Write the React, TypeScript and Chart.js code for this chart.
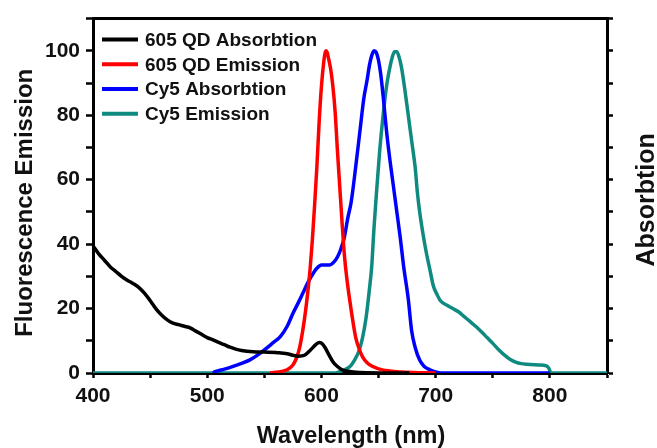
import React, { useEffect, useRef } from 'react';
import { Chart, registerables } from 'chart.js';

Chart.register(...registerables);

// ---- Data ----
const seriesNames = ['605 QD Absorbtion', '605 QD Emission', 'Cy5 Absorbtion', 'Cy5 Emission'];
const seriesColors = ['#000000', '#ff0000', '#0000ff', '#0f8a80'];

const qdAbsWl = [400, 405, 410, 415, 420, 425, 430, 435, 440, 445, 450, 455, 460, 465, 470, 475, 480, 485, 490, 495, 500, 505, 510, 515, 520, 525, 530, 540, 550, 560, 565, 570, 575, 580, 585, 590, 595, 598, 600, 603, 606, 610, 614, 618, 622, 628, 640, 677];
const qdAbsVal = [39.5, 37, 35, 33, 31.5, 30, 28.8, 27.8, 26.6, 24.8, 22.5, 20, 18, 16.5, 15.5, 15, 14.5, 14, 13, 12, 11, 10.3, 9.5, 8.8, 8, 7.4, 7, 6.6, 6.5, 6.4, 6.2, 6, 5.5, 5.2, 5.5, 7, 8.8, 9.5, 9.3, 8, 6, 3.5, 2, 1, 0.6, 0.3, 0.1, 0];

const qdEmWl = [555, 560, 565, 570, 575, 578, 581, 584, 586, 588, 590, 592, 594, 596, 598, 600, 602, 603, 604, 605, 606, 608, 610, 612, 614, 616, 618, 620, 622, 625, 628, 630, 633, 636, 640, 645, 650, 660, 670, 680, 700];
const qdEmVal = [0, 0.2, 0.5, 1, 2.5, 4.5, 8, 14, 19, 25, 32, 41, 52, 64, 78, 89, 96.5, 99, 100, 99.5, 98, 94.5, 89, 81, 69, 58, 47, 37, 30, 22, 15, 11, 7.5, 5, 3.2, 2, 1.3, 0.6, 0.3, 0.15, 0];

const cy5AbsWl = [505, 507, 515, 522, 530, 537, 545, 552, 558, 564, 570, 575, 580, 584, 588, 592, 596, 600, 604, 607, 611, 614, 617, 620, 623, 626, 630, 634, 637, 640, 642, 644, 646, 648, 650, 652, 654, 657, 660, 663, 666, 669, 672, 676, 679, 682, 686, 690, 695, 700, 705, 800];
const cy5AbsVal = [0, 0.4, 1.2, 2, 3, 4, 5.8, 7.7, 9.5, 11.3, 14.5, 18.5, 22, 25, 28, 30.5, 32.5, 33.5, 33.5, 33.5, 34.5, 36, 38.5, 42, 48, 53, 64, 76, 85, 91, 95.5, 98.5, 100, 99.5, 97, 92.5, 86, 75, 66, 58, 50, 42, 33, 23, 13, 8, 4, 2, 1, 0.3, 0, 0];

const cy5EmWl = [400, 612, 616, 620, 625, 629, 633, 636, 639, 642, 644, 646, 648, 651, 654, 657, 660, 662, 664, 666, 668, 670, 673, 676, 679, 682, 684, 686, 689, 692, 695, 698, 701, 704, 710, 715, 720, 725, 730, 735, 740, 745, 750, 755, 760, 765, 770, 775, 780, 790, 797, 799, 801, 850];
const cy5EmVal = [0, 0, 0.4, 1, 2, 4, 7, 11, 17, 26, 33, 45, 55, 69, 80, 89, 95, 98, 99.7, 99.7, 98, 95, 88, 80, 72, 64, 56, 50, 43, 37, 32, 27, 24.5, 22.5, 21, 20, 19, 17.5, 16, 14.5, 12.8, 11, 9.2, 7.3, 5.6, 4.3, 3.4, 2.9, 2.7, 2.5, 2.2, 1.5, 0, 0];

const xTickLabels = [400, 500, 600, 700, 800];
const yTickLabels = [0, 20, 40, 60, 80, 100];
const xTitle = 'Wavelength (nm)';
const yTitle = 'Fluorescence Emission';
const y2Title = 'Absorbtion';

const FONT = '"Liberation Sans", Arial, Helvetica, sans-serif';

const toPoints = (xs: number[], ys: number[]) => xs.map((x, i) => ({ x, y: ys[i] }));

const overlayPlugin = {
  id: 'overlay',
  afterDraw(chart: any) {
    const ctx = chart.ctx as CanvasRenderingContext2D;
    const ca = chart.chartArea;
    ctx.save();
    // legend
    ctx.font = `bold 19px ${FONT}`;
    ctx.textAlign = 'left';
    ctx.textBaseline = 'middle';
    chart.data.datasets.forEach((ds: any, i: number) => {
      const y = ca.top + 21 + i * 24.7;
      ctx.strokeStyle = ds.borderColor;
      ctx.lineWidth = 4;
      ctx.beginPath();
      ctx.moveTo(ca.left + 9, y);
      ctx.lineTo(ca.left + 45, y);
      ctx.stroke();
      ctx.fillStyle = '#111';
      ctx.fillText(ds.label, ca.left + 52, y + 1);
    });
    // axis titles
    ctx.fillStyle = '#111';
    ctx.textAlign = 'center';
    ctx.textBaseline = 'alphabetic';
    ctx.font = `bold 23.5px ${FONT}`;
    ctx.fillText(xTitle, (ca.left + ca.right) / 2 + 1, chart.height - 5);
    ctx.font = `bold 24px ${FONT}`;
    ctx.save();
    ctx.translate(32, (ca.top + ca.bottom) / 2 + 7);
    ctx.rotate(-Math.PI / 2);
    ctx.fillText(yTitle, 0, 0);
    ctx.restore();
    ctx.font = `bold 25px ${FONT}`;
    ctx.save();
    ctx.translate(chart.width - 3, (ca.top + ca.bottom) / 2 + 4);
    ctx.rotate(-Math.PI / 2);
    ctx.fillText(y2Title, 0, 0);
    ctx.restore();
    ctx.restore();
  },
};

export default function App() {
  const ref = useRef<HTMLCanvasElement>(null);
  useEffect(() => {
    const canvas = ref.current;
    if (!canvas) return;
    const seriesX = [qdAbsWl, qdEmWl, cy5AbsWl, cy5EmWl];
    const seriesY = [qdAbsVal, qdEmVal, cy5AbsVal, cy5EmVal];
    const tickFont = { family: FONT, size: 21, weight: 'bold' as const };
    const chart = new Chart(canvas, {
      type: 'line',
      data: {
        datasets: seriesNames.map((name, i) => ({
          label: name,
          data: toPoints(seriesX[i], seriesY[i]),
          borderColor: seriesColors[i],
          backgroundColor: seriesColors[i],
          borderWidth: 3.5,
          pointRadius: 0,
          fill: false,
          cubicInterpolationMode: 'monotone' as const,
          xAxisID: 'x',
          yAxisID: 'y',
        })),
      },
      options: {
        animation: false,
        responsive: false,
        layout: { padding: 0 },
        plugins: { legend: { display: false }, tooltip: { enabled: false }, title: { display: false } },
        scales: {
          x: {
            type: 'linear',
            position: 'bottom',
            min: 400,
            max: 850,
            afterFit: (s: any) => { s.height = 75; },
            ticks: {
              stepSize: 50,
              autoSkip: false,
              maxRotation: 0,
              padding: 6,
              color: '#111',
              font: tickFont,
              callback: (v: any) => (xTickLabels.includes(Number(v)) ? String(v) : ''),
            },
            grid: { drawOnChartArea: false, drawTicks: true, tickLength: 5, tickWidth: 2.5, tickColor: '#000' },
            border: { display: true, color: '#000', width: 3 },
          },
          x2: {
            type: 'linear',
            position: 'top',
            min: 400,
            max: 850,
            afterFit: (s: any) => { s.height = 18; },
            ticks: { display: false },
            grid: { drawOnChartArea: false, drawTicks: false },
            border: { display: true, color: '#000', width: 3 },
          },
          y: {
            type: 'linear',
            position: 'left',
            min: 0,
            max: 110,
            afterFit: (s: any) => { s.width = 93; },
            ticks: {
              stepSize: 10,
              autoSkip: false,
              padding: 6,
              color: '#111',
              font: tickFont,
              callback: (v: any) => (yTickLabels.includes(Number(v)) ? String(v) : ''),
            },
            grid: { drawOnChartArea: false, drawTicks: true, tickLength: 7, tickWidth: 2.5, tickColor: '#000' },
            border: { display: true, color: '#000', width: 3 },
          },
          y2: {
            type: 'linear',
            position: 'right',
            min: 0,
            max: 110,
            afterFit: (s: any) => { s.width = 50; },
            ticks: { display: false, stepSize: 10 },
            grid: { drawOnChartArea: false, drawTicks: true, tickLength: 6, tickWidth: 2.5, tickColor: '#000' },
            border: { display: true, color: '#000', width: 3 },
          },
        },
      },
      plugins: [overlayPlugin],
    });
    return () => chart.destroy();
  }, []);
  return (
    <div style={{ position: 'absolute', left: 0, top: 0, width: 657, height: 448, background: '#fff' }}>
      <canvas ref={ref} width={657} height={448} style={{ display: 'block', width: 657, height: 448 }} />
    </div>
  );
}
